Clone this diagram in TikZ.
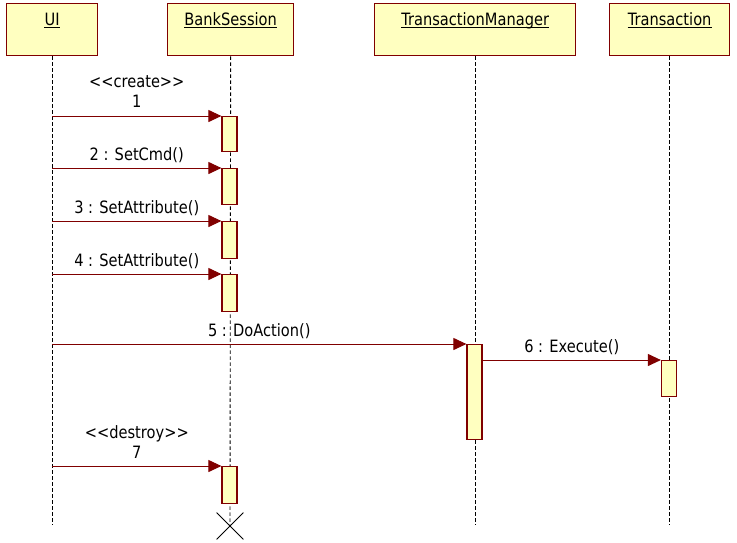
\documentclass[tikz,border=0pt]{standalone}
\usepackage{fontspec}
\setmainfont{DejaVu Sans}[FakeStretch=0.86,Ligatures=TeXOff]
\usetikzlibrary{arrows.meta,shapes.misc}
\definecolor{boxfill}{HTML}{FFFFC0}
\definecolor{boxline}{HTML}{800000}
\begin{document}
\begin{tikzpicture}[x=1pt,y=-1pt,
  every node/.style={font=\fontsize{17}{20}\selectfont},
  head/.style={draw=boxline,fill=boxfill,line width=1.3pt,minimum height=52pt,inner sep=0,anchor=north west},
  title/.style={inner sep=0,text=black,anchor=base},
  uline/.style={line width=0.9pt,black},
  lifeline/.style={draw=black,line width=0.9pt,dash pattern=on 3.5pt off 2.5pt},
  act/.style={draw=boxline,fill=boxfill,line width=1.2pt,minimum width=15pt,inner sep=0,anchor=north},
  msg/.style={draw=boxline,line width=1pt,-{Triangle[length=13pt,width=12pt]}},
  lbl/.style={midway,yshift=13pt,inner sep=0},
  lbltwo/.style={midway,yshift=24pt,inner sep=0,align=center}
]
\useasboundingbox (0,0) rectangle (737,542);

% object heads
\node[head,minimum width=91pt]  (ui) at (6,3)   {};
\node[head,minimum width=126pt] (bs) at (167,3) {};
\node[head,minimum width=201pt] (tm) at (374,3) {};
\node[head,minimum width=120pt] (tr) at (609,3) {};

\node[title] (uit) at ([yshift=-22pt]ui.north) {UI};
\node[title] (bst) at ([yshift=-22pt]bs.north) {BankSession};
\node[title] (tmt) at ([yshift=-22pt]tm.north) {TransactionManager};
\node[title] (trt) at ([yshift=-22pt]tr.north) {Transaction};
\foreach \n in {uit,bst,tmt,trt}
  \draw[uline] ([yshift=-2pt]\n.base west) -- ([yshift=-2pt]\n.base east);

% lifelines
\coordinate (bottom) at (0,525);
\node[draw,cross out,minimum size=26pt,inner sep=0,line width=0.8pt] (kill) at (230,526) {};
\draw[lifeline] (ui.south) -- (ui.south |- bottom);
\draw[lifeline] (bs.south) -- (kill.center);
\draw[lifeline] (tm.south) -- (tm.south |- bottom);
\draw[lifeline] (tr.south) -- (tr.south |- bottom);

% activations
\node[act,minimum height=35pt] (b1) at (229.5,116) {};
\node[act,minimum height=36pt] (b2) at (229.5,168) {};
\node[act,minimum height=37pt] (b3) at (229.5,221) {};
\node[act,minimum height=37pt] (b4) at (229.5,274) {};
\node[act,minimum height=95pt] (t1) at (474.5,344) {};
\node[act,minimum height=36pt] (t2) at (669,360)   {};
\node[act,minimum height=37pt] (b7) at (229.5,466) {};

% messages
\draw[msg] (ui.south |- b1.north) -- (b1.north west) node[lbltwo] {<<create>>\\1};
\draw[msg] (ui.south |- b2.north) -- (b2.north west) node[lbl] {2 : SetCmd()};
\draw[msg] (ui.south |- b3.north) -- (b3.north west) node[lbl] {3 : SetAttribute()};
\draw[msg] (ui.south |- b4.north) -- (b4.north west) node[lbl] {4 : SetAttribute()};
\draw[msg] (ui.south |- t1.north) -- (t1.north west) node[lbl] {5 : DoAction()};
\draw[msg] (t1.east |- t2.north) -- (t2.north west) node[lbl] {6 : Execute()};
\draw[msg] (ui.south |- b7.north) -- (b7.north west) node[lbltwo] {<<destroy>>\\7};
\end{tikzpicture}
\end{document}
